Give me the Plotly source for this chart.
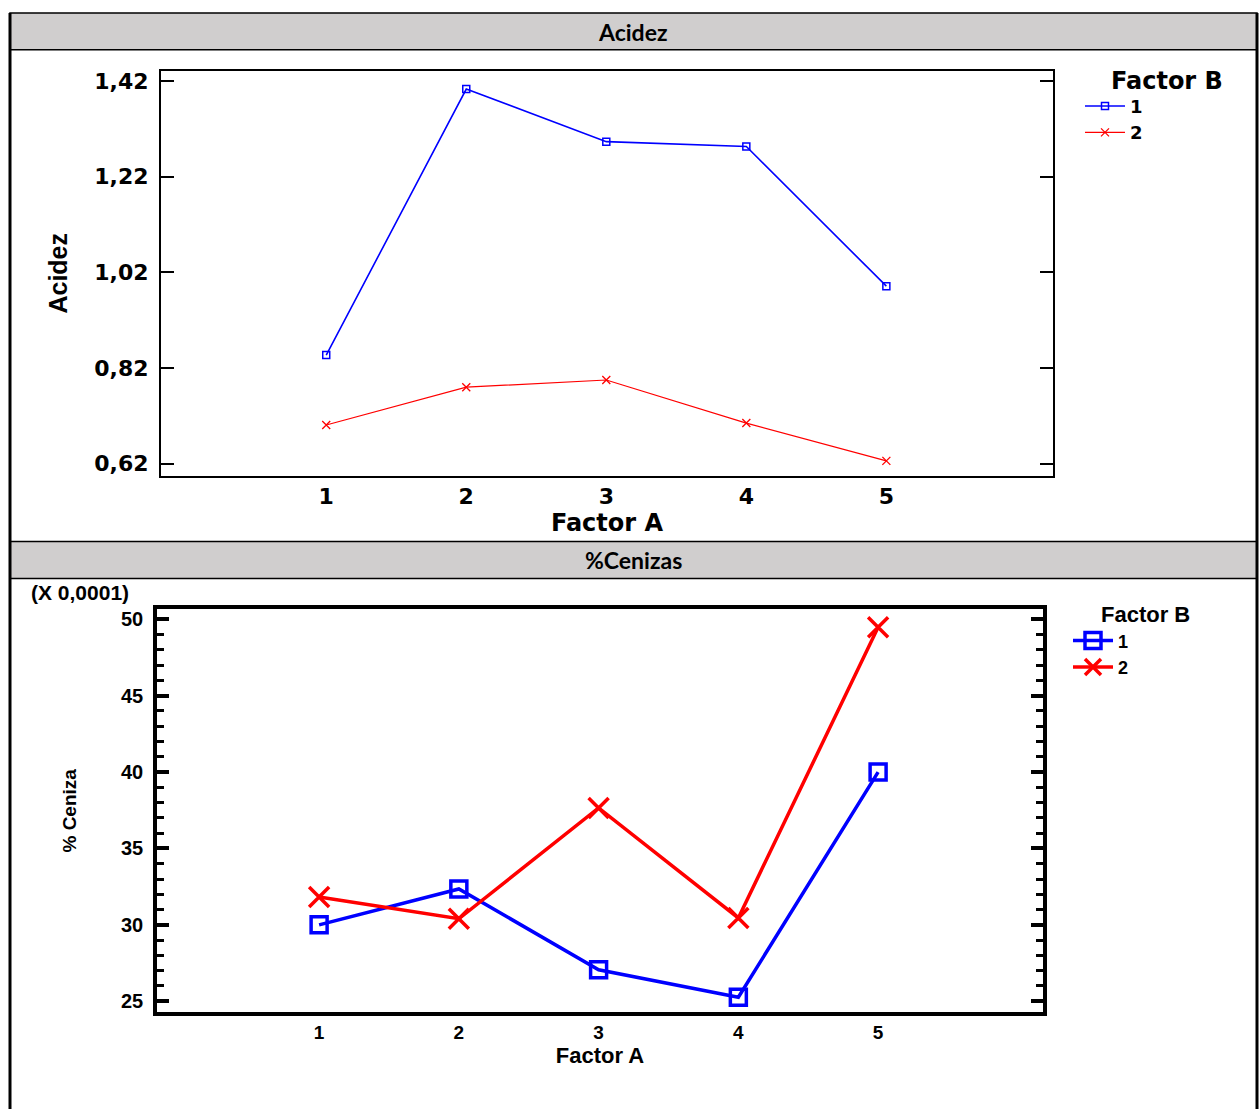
import plotly.graph_objects as go

W, H = 1260, 1110

factor_a = [1, 2, 3, 4, 5]
acidez_b1 = [0.847, 1.403, 1.293, 1.283, 0.991]
acidez_b2 = [0.701, 0.780, 0.795, 0.705, 0.626]
ceniza_b1 = [30.0, 32.35, 27.06, 25.26, 40.0]   # x 0,0001
ceniza_b2 = [31.83, 30.4, 37.65, 30.45, 49.48]  # x 0,0001
acidez_ticks = [0.62, 0.82, 1.02, 1.22, 1.42]
ceniza_ticks = [25, 30, 35, 40, 45, 50]

def px(x):
    return x / W

def py(y):
    return 1 - y / H

BLUE = "#0000FF"
RED = "#FF0000"
WIDE = "DejaVu Sans"
ARIAL = "Liberation Sans"

fig = go.Figure()

# top chart
fig.add_trace(go.Scatter(x=factor_a, y=acidez_b1, name="1", mode="lines+markers",
                         line=dict(color=BLUE, width=1.6),
                         marker=dict(symbol="square-open", size=7, color=BLUE, line=dict(width=1.5)),
                         xaxis="x", yaxis="y", legend="legend"))
fig.add_trace(go.Scatter(x=factor_a, y=acidez_b2, name="2", mode="lines+markers",
                         line=dict(color=RED, width=1.2),
                         marker=dict(symbol="x-thin-open", size=8, color=RED, line=dict(width=1.3, color=RED)),
                         xaxis="x", yaxis="y", legend="legend"))
# bottom chart
fig.add_trace(go.Scatter(x=factor_a, y=ceniza_b1, name="1", mode="lines+markers",
                         line=dict(color=BLUE, width=3.5),
                         marker=dict(symbol="square-open", size=16, color=BLUE, line=dict(width=3.5)),
                         xaxis="x2", yaxis="y2", legend="legend2"))
fig.add_trace(go.Scatter(x=factor_a, y=ceniza_b2, name="2", mode="lines+markers",
                         line=dict(color=RED, width=3.5),
                         marker=dict(symbol="x-thin-open", size=20, color=RED, line=dict(width=3.5, color=RED)),
                         xaxis="x2", yaxis="y2", legend="legend2"))

shapes = []
# header bands
for y0, y1 in [(11, 48), (541, 578)]:
    shapes.append(dict(type="rect", xref="paper", yref="paper",
                       x0=px(10), x1=px(1257), y0=py(y1), y1=py(y0),
                       fillcolor="#D0CECE", line=dict(color="black", width=1.5), layer="below"))
# outer vertical borders
shapes.append(dict(type="line", xref="paper", yref="paper", x0=px(10), x1=px(10),
                   y0=py(11), y1=py(1110), line=dict(color="black", width=3)))
shapes.append(dict(type="line", xref="paper", yref="paper", x0=px(1257), x1=px(1257),
                   y0=py(11), y1=py(1110), line=dict(color="black", width=3)))

annotations = [
    dict(text="<b>Acidez</b>", x=px(633), y=py(30), xref="paper", yref="paper",
         xanchor="center", yanchor="middle",
         showarrow=False, font=dict(family="Lato", size=23, color="black")),
    dict(text="<b>%Cenizas</b>", x=px(633), y=py(560), xref="paper", yref="paper",
         xanchor="center", yanchor="middle",
         showarrow=False, font=dict(family="Lato", size=23, color="black")),
    dict(text="<b>(X 0,0001)</b>", x=px(29), y=py(592), xref="paper", yref="paper",
         xanchor="left", yanchor="middle", showarrow=False,
         font=dict(family=ARIAL, size=21, color="black")),
    dict(text="<b>Factor B</b>", x=px(1109), y=py(79), xref="paper", yref="paper",
         xanchor="left", yanchor="middle", showarrow=False,
         font=dict(family=WIDE, size=24, color="black")),
    dict(text="<b>Factor B</b>", x=px(1099), y=py(614), xref="paper", yref="paper",
         xanchor="left", yanchor="middle", showarrow=False,
         font=dict(family=ARIAL, size=22, color="black")),
]

fig.update_layout(
    width=W, height=H,
    margin=dict(l=0, r=0, t=0, b=0),
    paper_bgcolor="white", plot_bgcolor="white",
    separators=",.",
    shapes=shapes,
    annotations=annotations,
    xaxis=dict(domain=[px(161), px(1053)], range=[-0.18, 6.19], anchor="y",
               tickvals=factor_a, ticks="", showgrid=False, zeroline=False,
               showline=True, mirror=True, linecolor="black", linewidth=2,
               tickfont=dict(family=WIDE, size=22, color="black", weight="bold"),
               title=dict(text="<b>Factor A</b>", font=dict(family=WIDE, size=24, color="black"),
                          standoff=2)),
    yaxis=dict(domain=[py(475), py(69)], range=[0.595, 1.441], anchor="x",
               tickvals=acidez_ticks, tickformat=".2f", ticks="inside", ticklen=13, tickwidth=2,
               tickcolor="black", showgrid=False, zeroline=False,
               showline=True, mirror="ticks", linecolor="black", linewidth=2,
               tickfont=dict(family=WIDE, size=22, color="black", weight="bold"),
               ticklabelstandoff=6,
               title=dict(text="<b>Acidez</b>", font=dict(family=ARIAL, size=25, color="black"),
                          standoff=20)),
    xaxis2=dict(domain=[px(157), px(1043)], range=[-0.16, 6.18], anchor="y2",
                tickvals=factor_a, ticks="", showgrid=False, zeroline=False,
                showline=True, mirror=True, linecolor="black", linewidth=3.5,
                tickfont=dict(family=ARIAL, size=19, color="black", weight="bold"),
                title=dict(text="<b>Factor A</b>", font=dict(family=ARIAL, size=22, color="black"),
                           standoff=2)),
    yaxis2=dict(domain=[py(1013), py(609)], range=[24.28, 50.65], anchor="x2",
                tickvals=ceniza_ticks, ticks="inside", ticklen=12, tickwidth=3.5,
                tickcolor="black", showgrid=False, zeroline=False,
                minor=dict(dtick=1, ticks="inside", ticklen=7, tickwidth=3, tickcolor="black", showgrid=False),
                showline=True, mirror="ticks", linecolor="black", linewidth=3.5,
                tickfont=dict(family=ARIAL, size=20, color="black", weight="bold"),
                ticklabelstandoff=6,
                title=dict(text="<b>% Ceniza</b>", font=dict(family=ARIAL, size=19, color="black"),
                           standoff=40)),
    legend=dict(x=px(1080), y=py(86), xanchor="left", yanchor="top",
                bgcolor="rgba(0,0,0,0)", tracegroupgap=0, itemwidth=40,
                font=dict(family=WIDE, size=18, color="black", weight="bold")),
    legend2=dict(x=px(1068), y=py(622), xanchor="left", yanchor="top",
                 bgcolor="rgba(0,0,0,0)", tracegroupgap=0, itemwidth=40,
                 font=dict(family=ARIAL, size=18, color="black", weight="bold")),
    showlegend=True,
)

fig.write_html("out.html", config={"displayModeBar": False},
               post_script="document.body.style.margin='0';document.body.style.overflow='hidden';")
